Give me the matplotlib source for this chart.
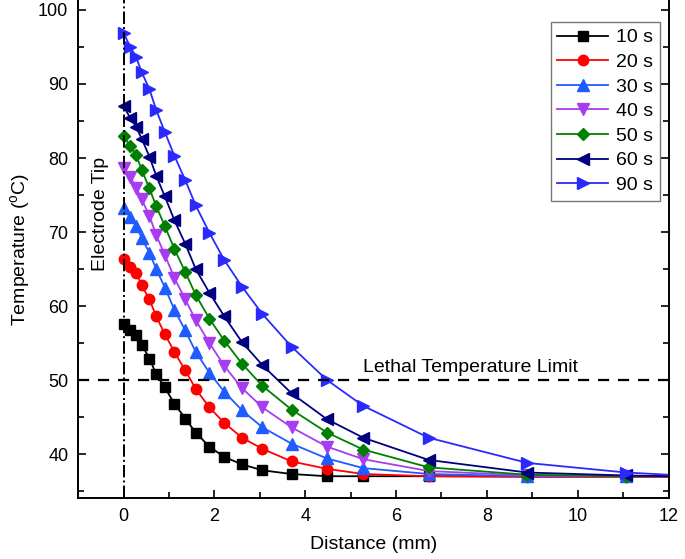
import matplotlib
matplotlib.use("Agg")
import matplotlib.pyplot as plt
from matplotlib.ticker import MultipleLocator

plt.rcParams["font.family"] = ["Liberation Sans", "DejaVu Sans"]

# distance from electrode tip (mm); last node (12 mm) has no marker
distance = [0, 0.15, 0.28, 0.40, 0.57, 0.72, 0.91, 1.12, 1.36, 1.59, 1.89,
            2.22, 2.61, 3.06, 3.70, 4.48, 5.28, 6.72, 8.89, 11.07, 12.0]

temp_10s = [57.6, 56.8, 56.1, 54.8, 52.9, 50.8, 49.0, 46.8, 44.8, 42.9, 41.0,
            39.6, 38.6, 37.8, 37.3, 37.0, 37.0, 37.0, 37.0, 37.0, 37.0]
temp_20s = [66.4, 65.3, 64.5, 62.8, 60.9, 58.6, 56.2, 53.8, 51.3, 48.8, 46.3,
            44.2, 42.2, 40.7, 39.0, 38.0, 37.3, 37.0, 36.9, 36.9, 36.9]
temp_30s = [73.2, 72.0, 70.8, 69.2, 67.2, 65.0, 62.5, 59.5, 56.7, 53.8, 51.0,
            48.4, 45.9, 43.6, 41.4, 39.4, 38.1, 37.3, 37.0, 37.0, 37.0]
temp_40s = [78.6, 77.4, 76.0, 74.4, 72.2, 69.6, 66.9, 63.8, 60.9, 58.1, 55.0,
            51.9, 48.9, 46.3, 43.6, 41.0, 39.3, 37.7, 37.1, 37.0, 37.0]
temp_50s = [83.0, 81.6, 80.4, 78.4, 75.9, 73.5, 70.8, 67.7, 64.6, 61.5, 58.3,
            55.3, 52.2, 49.2, 46.0, 42.9, 40.6, 38.2, 37.2, 37.0, 37.0]
temp_60s = [87.0, 85.4, 84.2, 82.6, 80.2, 77.6, 74.8, 71.6, 68.4, 65.0, 61.8,
            58.6, 55.1, 52.0, 48.2, 44.7, 42.2, 39.2, 37.5, 37.1, 37.0]
temp_90s = [96.9, 95.0, 93.6, 91.6, 89.3, 86.5, 83.5, 80.3, 77.0, 73.6, 69.9,
            66.2, 62.6, 58.9, 54.5, 50.0, 46.5, 42.2, 38.8, 37.5, 37.2]

labels = ["10 s", "20 s", "30 s", "40 s", "50 s", "60 s", "90 s"]
series = [temp_10s, temp_20s, temp_30s, temp_40s, temp_50s, temp_60s, temp_90s]
colors = ["#000000", "#ff0000", "#1f5cff", "#a83cf0", "#008000", "#000080", "#2a2aff"]
markers = ["s", "o", "^", "v", "D", "<", ">"]
msizes = [7, 7.5, 8, 8, 6, 8, 8]

lethal_limit = 50

fig = plt.figure(figsize=(6.85, 5.59), dpi=100)
ax = fig.add_axes([0.114, 0.109, 0.862, 0.891])

n_marked = len(distance) - 1
for temps, label, color, marker, ms in zip(series, labels, colors, markers, msizes):
    ax.plot(distance, temps, color=color, marker=marker, markersize=ms,
            linewidth=1.3, label=label, markevery=list(range(n_marked)))

ax.axvline(0, color="black", linestyle="-.", linewidth=1.4)
ax.axhline(lethal_limit, color="black", linestyle=(0, (5, 4)), linewidth=1.6)

ax.text(-0.5, 72.5, "Electrode Tip", rotation=90, ha="center", va="center", fontsize=14)
ax.text(7.65, 50.5, "Lethal Temperature Limit", ha="center", va="bottom", fontsize=14)

ax.set_xlim(-1, 12)
ax.set_ylim(34.05, 101.35)
ax.xaxis.set_major_locator(MultipleLocator(2))
ax.xaxis.set_minor_locator(MultipleLocator(1))
ax.yaxis.set_major_locator(MultipleLocator(10))
ax.yaxis.set_minor_locator(MultipleLocator(5))
ax.tick_params(which="both", direction="in", labelsize=13, right=True, width=1.2)
ax.tick_params(which="major", length=6, pad=7)
ax.tick_params(which="minor", length=4)
ax.tick_params(axis="y", which="both", labelright=False)
ax.set_yticks([40, 50, 60, 70, 80, 90, 100])
ax.spines["top"].set_visible(False)
for side in ["left", "right", "bottom"]:
    ax.spines[side].set_linewidth(1.4)

ax.set_xlabel("Distance (mm)", fontsize=14, labelpad=8)
ax.set_ylabel("Temperature ($^{\\mathregular{o}}$C)", fontsize=14, labelpad=4)

leg = ax.legend(loc="upper right", bbox_to_anchor=(0.985, 0.956), fontsize=14,
                frameon=True, fancybox=False, edgecolor="#555555",
                handlelength=2.6, labelspacing=0.36, borderpad=0.35,
                handletextpad=0.4, borderaxespad=0)
leg.get_frame().set_linewidth(1.0)

fig.savefig("out.png", dpi=100)
